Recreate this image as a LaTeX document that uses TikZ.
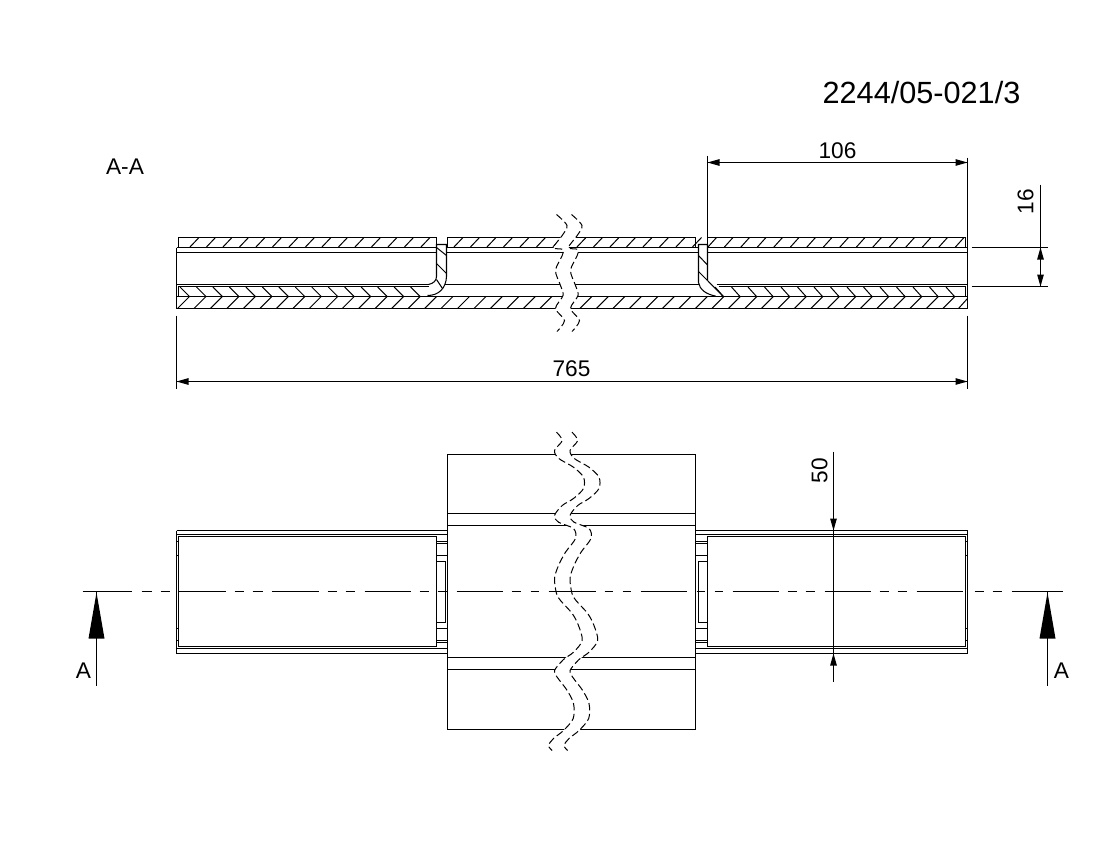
\documentclass[tikz,border=0pt]{standalone}
\usepackage{fontspec}
\setmainfont{Liberation Sans}
\tikzset{
  ln/.style={line width=0.78pt,black},
  hat/.style={line width=0.75pt,black},
  wav/.style={line width=0.75pt,black,dash pattern=on 5.5pt off 2.6pt},
  lab/.style={font=\fontsize{17}{20}\selectfont,inner sep=0pt,black},
  ttl/.style={font=\fontsize{23}{26}\selectfont,inner sep=0pt,black}
}
\newcommand{\harr}[3]{\fill[black] (#1,#2)--({#1+(#3)*12},{#2-3.4})--({#1+(#3)*12},{#2+3.4})--cycle;}
\newcommand{\varr}[3]{\fill[black] (#1,#2)--({#1-3.4},{#2+(#3)*12})--({#1+3.4},{#2+(#3)*12})--cycle;}
\begin{document}
\begin{tikzpicture}[x=0.75pt,y=-0.75pt]
\fill[white] (0,0) rectangle (1100,850);
\useasboundingbox (0,0) rectangle (1100,850);
\begin{scope}[shift={(0.5,0.5)}]
% ---------- section A-A : hatching
\foreach \k in {0,...,14} \draw[hat] ({189+16.5*\k},247)--++(9.5,-10);
\foreach \k in {0,...,6} \draw[hat] ({453+16.5*\k},247)--++(9.5,-10);
\foreach \k in {0,...,7} \draw[hat] ({576+16.5*\k},247)--++(9.5,-10);
\foreach \k in {0,...,15} \draw[hat] ({707+16.5*\k},247)--++(9,-10);
\foreach \k in {0,...,22} \draw[hat] ({189+16.47*\k},296)--++(-12,12);
\foreach \k in {0,...,23} \draw[hat] ({574.8+16.5*\k},296)--++(-12,12);
\draw[hat] (967,298)--(958,308);
\foreach \k in {0,...,14} \draw[hat] ({189+16.47*\k},296)--++(-9.5,-9.5);
\foreach \k in {0,...,14} \draw[hat] ({723+16.5*\k},296)--++(-8.5,-9.5);
% ---------- section A-A : outlines
\draw[ln] (178,247)--(178,237)--(436,237)--(436,247);
\draw[ln] (447,247)--(447,237)--(695,237)--(695,247);
\draw[ln] (707,237)--(965,237)--(965,247);
\draw[ln] (176,247)--(436,247) (446,247)--(698,247) (707,247)--(967,247);
\draw[ln] (176,252)--(436,252) (446,252)--(698,252) (707,252)--(967,252);
\draw[ln] (176,247)--(176,308);
\draw[ln] (176,284)--(428,284) (444,284)--(698,284) (716,284)--(967,284);
\draw[ln] (178,296)--(178,286)--(428,286);
\draw[ln] (718,286)--(965,286)--(965,296);
\draw[ln] (176,296)--(967,296);
\draw[ln] (176,308)--(967,308);
\draw[ln] (967,157)--(967,308);
% left clip
\draw[ln] (428,284).. controls (433,283) and (436,280) ..(436,276)--(436,244)--(446,244)--(446,276)
  .. controls (445.5,288) and (438,295) .. (427,295);
\draw[hat] (436,247)--(446,255) (436,263)--(446,273) (436,279)--(442,288);
% right clip
\draw[ln] (707,280)--(707,244)--(698,244)--(698,282)
  .. controls (699,289) and (706,294) .. (715,295.5);
\draw[ln] (707,280)--(722.7,296);
\draw[hat] (698,255)--(707,264.5) (698,271)--(707,280);
% break in section
\fill[white] plot[smooth] coordinates {(556,214)(566.5,225)(561.7,235)(553,247)(562.5,249)(561.7,255)(555,270)(560,285)(562.5,295)(555,308)(564,320)(556.5,331)}
  -- plot[smooth] coordinates {(571.5,331)(579,320)(570,308)(577.5,295)(575,285)(570,270)(576.7,255)(577.5,249)(568,247)(576.7,235)(581.5,225)(571,214)} -- cycle;
\draw[wav] plot[smooth] coordinates {(556,214)(566.5,225)(561.7,235)(553,247)(562.5,249)(561.7,255)(555,270)(560,285)(562.5,295)(555,308)(564,320)(556.5,331)};
\draw[wav] plot[smooth] coordinates {(571,214)(581.5,225)(576.7,235)(568,247)(577.5,249)(576.7,255)(570,270)(575,285)(577.5,295)(570,308)(579,320)(571.5,331)};
% ---------- section dimensions
\draw[ln] (707,155)--(707,244);
\draw[ln] (707,162)--(967,162);
\harr{707}{162}{1}\harr{967}{162}{-1}
\node[lab] (dimA) at (837,150) {106};
\draw[ln] (176,315)--(176,388) (967,315)--(967,388);
\draw[ln] (176,381)--(967,381);
\harr{176}{381}{1}\harr{967}{381}{-1}
\node[lab] (dimB) at (571,368) {765};
\draw[ln] (971,247)--(1047,247) (971,286)--(1047,286);
\draw[ln] (1040,184)--(1040,286);
\varr{1040}{247}{1}\varr{1040}{286}{-1}
\node[lab,rotate=90] (dimC) at (1025,201) {16};
\node[lab] (secname) at (124.5,166) {A-A};
\node[ttl] (title) at (921,92) {2244/05-021/3};
% ---------- plan view
\draw[ln] (447,454) rectangle (695,729);
\draw[ln] (447,513)--(695,513) (447,525)--(695,525) (447,657)--(695,657) (447,669)--(695,669);
\foreach \y in {530,534,648,653} {\draw[ln] (176,\y)--(447,\y) (695,\y)--(967,\y);}
\draw[ln] (176,530)--(176,653) (967,530)--(967,653);
\draw[ln] (178,536)--(436,536)--(436,646)--(178,646)--cycle;
\draw[ln] (707,536)--(965,536)--(965,646)--(707,646)--cycle;
\foreach \y in {541,543,555,628,640,642} {\draw[ln] (436,\y)--(447,\y) (695,\y)--(707,\y);}
\foreach \y in {541,555,628,640} {\draw[ln] (176,\y)--(178,\y) (965,\y)--(967,\y);}
\draw[ln] (436,561)--(445,561)--(445,622)--(436,622);
\draw[ln] (707,561)--(698,561)--(698,622)--(707,622);
% break in plan
\fill[white] plot[smooth] coordinates {(556,431.7)(561.7,440)(554,450)(558.3,458)(573,466.7)(583,476.7)(583,488)(573,498)(561.7,505)(554,515)(558,521.7)(573,528)(575,538)(565,551.7)(558,565)(554,578)(556,593)(560,600)(571.7,613)(578,625)(581.7,640)(573,651.7)(563,659)(554,670)(556.7,676.7)(566.7,690)(573,703)(572.7,718)(563,730)(553,738)(548,745)(551.7,750)}
 -- plot[smooth] coordinates {(567.2,750)(563.5,745)(568.5,738)(578.5,730)(588.2,718)(588.5,703)(582.2,690)(572.2,676.7)(569.5,670)(578.5,659)(588.5,651.7)(597.2,640)(593.5,625)(587.2,613)(575.5,600)(571.5,593)(569.5,578)(573.5,565)(580.5,551.7)(590.5,538)(588.5,528)(573.5,521.7)(569.5,515)(577.2,505)(588.5,498)(598.5,488)(598.5,476.7)(588.5,466.7)(573.8,458)(569.5,450)(577.2,440)(571.5,431.7)} -- cycle;
% centre line
\foreach \a/\b in {82/131.5,141/151,160/169,178/225,234/243,252/262,271/318,327/336,345/354,364/410,419/428,437/446,456/502,511/520,530/538,548/595,604/612,622/630,640/686,696/704,714/722,732/778,787/796,805/814,824/870,879/888,897/906,916/962,974/983,992/1001,1011/1062}
  {\draw[ln] (\a,591)--(\b,591);}
\draw[wav] plot[smooth] coordinates {(556,431.7)(561.7,440)(554,450)(558.3,458)(573,466.7)(583,476.7)(583,488)(573,498)(561.7,505)(554,515)(558,521.7)(573,528)(575,538)(565,551.7)(558,565)(554,578)(556,593)(560,600)(571.7,613)(578,625)(581.7,640)(573,651.7)(563,659)(554,670)(556.7,676.7)(566.7,690)(573,703)(572.7,718)(563,730)(553,738)(548,745)(551.7,750)};
\draw[wav] plot[smooth] coordinates {(571.5,431.7)(577.2,440)(569.5,450)(573.8,458)(588.5,466.7)(598.5,476.7)(598.5,488)(588.5,498)(577.2,505)(569.5,515)(573.5,521.7)(588.5,528)(590.5,538)(580.5,551.7)(573.5,565)(569.5,578)(571.5,593)(575.5,600)(587.2,613)(593.5,625)(597.2,640)(588.5,651.7)(578.5,659)(569.5,670)(572.2,676.7)(582.2,690)(588.5,703)(588.2,718)(578.5,730)(568.5,738)(563.5,745)(567.2,750)};
% ---------- plan dimension
\draw[ln] (833,451)--(833,681);
\varr{833}{530}{-1}\varr{833}{653}{1}
\node[lab,rotate=90] (dimD) at (819,470) {50};
% ---------- section arrows
\draw[ln] (96,591)--(96,685);
\fill[black] (96,592)--(88,638)--(104,638)--cycle;
\node[lab] (markL) at (83,670) {A};
\draw[ln] (1047,591)--(1047,685);
\fill[black] (1047,592)--(1039,638)--(1055,638)--cycle;
\node[lab] (markR) at (1061,670) {A};
\end{scope}
\end{tikzpicture}
\end{document}
